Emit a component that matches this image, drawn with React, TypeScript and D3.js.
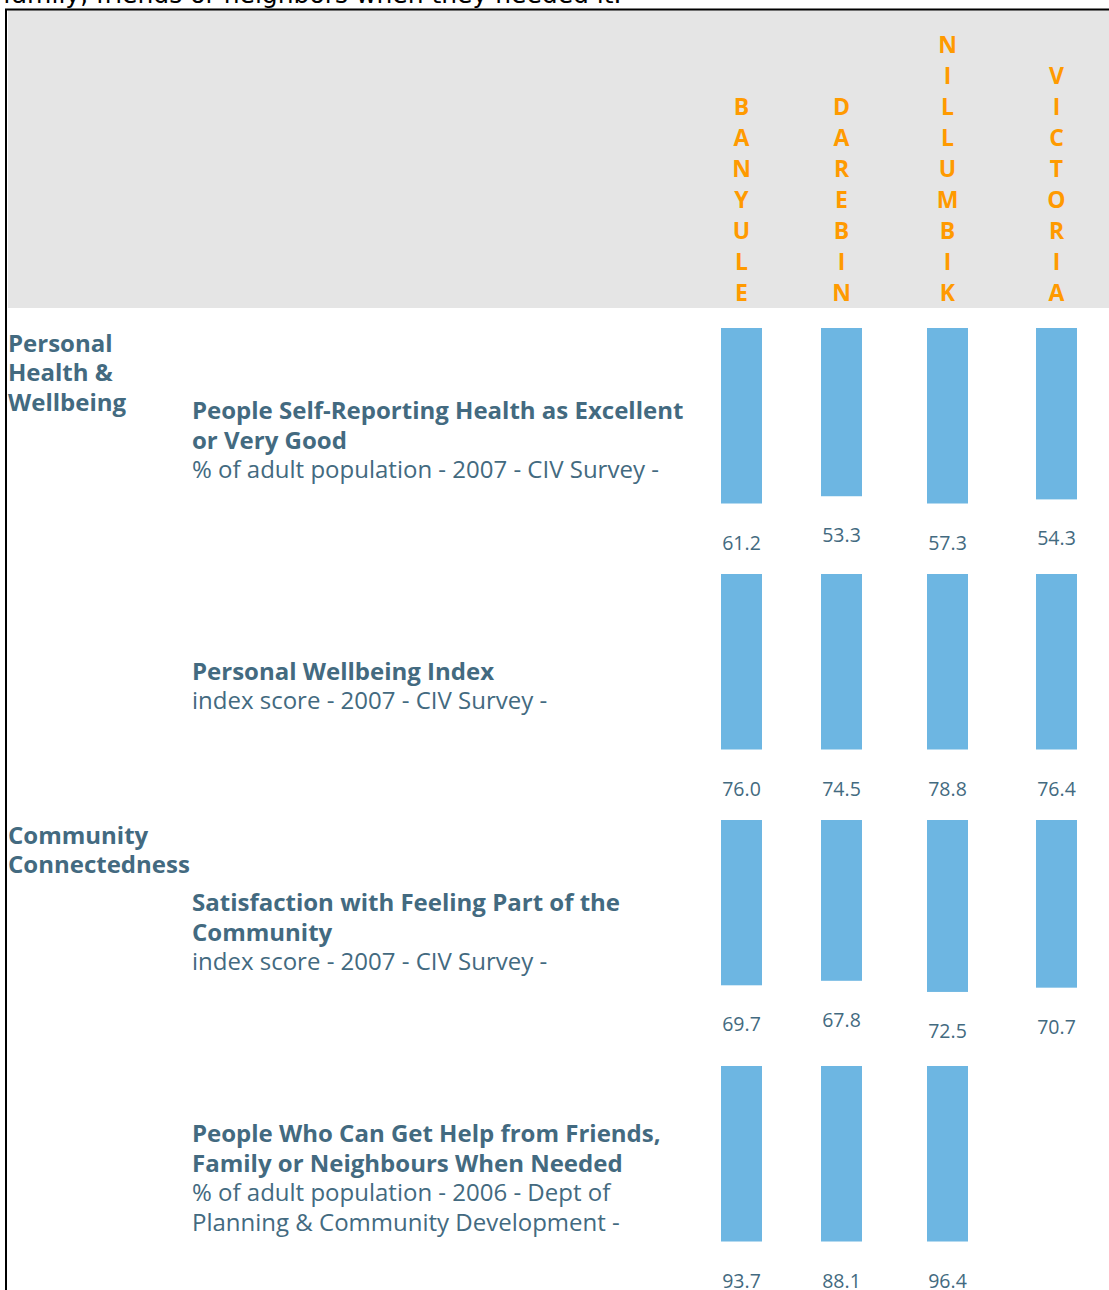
import React from "react";
import * as d3 from "d3";

const districts = ["BANYULE", "DAREBIN", "NILLUMBIK", "VICTORIA"];
const sections = [
  { row: 0, lines: ["Personal", "Health &", "Wellbeing"] },
  { row: 2, lines: ["Community", "Connectedness"] },
];
const indicatorTitles = [
  ["People Self-Reporting Health as Excellent", "or Very Good"],
  ["Personal Wellbeing Index"],
  ["Satisfaction with Feeling Part of the", "Community"],
  ["People Who Can Get Help from Friends,", "Family or Neighbours When Needed"],
];
const indicatorSubtitles = [
  ["% of adult population - 2007 - CIV Survey -"],
  ["index score - 2007 - CIV Survey -"],
  ["index score - 2007 - CIV Survey -"],
  ["% of adult population - 2006 - Dept of", "Planning & Community Development -"],
];
const selfReportedHealth = [61.2, 53.3, 57.3, 54.3];
const wellbeingIndex = [76.0, 74.5, 78.8, 76.4];
const communitySatisfaction = [69.7, 67.8, 72.5, 70.7];
const helpFromOthers = [93.7, 88.1, 96.4, null];
const rowValues = [selfReportedHealth, wellbeingIndex, communitySatisfaction, helpFromOthers];
// per-row bar scale maximum (bars are capped at the cell height)
const rowScaleMax = [55.6, 74.0, 74.0, 85.0];
const caption = "family, friends or neighbors when they needed it.";

const W = 1109;
const H = 1290;
const TEXT = "#436a80";
const ORANGE = "#ff9a00";
const BAR = "#6db6e2";
const GRAY = "#e5e5e5";
const FONT = "'Open Sans', Lato, sans-serif";

export default function App() {
  const x = d3.scaleOrdinal<string, number>().domain(districts).range([741.5, 841.5, 947.5, 1056.5]);
  const rowY = d3.scalePoint<number>().domain(d3.range(rowValues.length)).range([328, 1066]);
  const barW = 41;
  const cap = 175.5;
  const lineH = 29.5;

  return (
    <svg width={W} height={H} style={{ position: "absolute", left: 0, top: 0, background: "#fff" }}>
      <text x={3} y={3} fontFamily="'DejaVu Sans', sans-serif" fontSize={25} fill="#000">{caption}</text>
      <rect x={8} y={10} width={W - 8} height={298} fill={GRAY} />
      <line x1={5} x2={W} y1={9.5} y2={9.5} stroke="#000" strokeWidth={2} />
      <line x1={6} x2={6} y1={9} y2={H} stroke="#000" strokeWidth={2} />

      {districts.map((d) => {
        const letters = d.split("");
        const n = letters.length;
        return (
          <g key={d}>
            {letters.map((ch, i) => (
              <text key={i} x={x(d)} y={301 - (n - 1 - i) * 31} textAnchor="middle"
                fontFamily={FONT} fontWeight={700} fontSize={23} fill={ORANGE}>{ch}</text>
            ))}
          </g>
        );
      })}

      {sections.map((s) => (
        <text key={s.row} fontFamily={FONT} fontWeight={700} fontSize={24} fill={TEXT}>
          {s.lines.map((l, i) => (
            <tspan key={i} x={8} y={(rowY(s.row) as number) + 23.5 + i * lineH}>{l}</tspan>
          ))}
        </text>
      ))}

      {rowValues.map((vals, r) => {
        const top = rowY(r) as number;
        const lines = [
          ...indicatorTitles[r].map((t) => ({ t, bold: true })),
          ...indicatorSubtitles[r].map((t) => ({ t, bold: false })),
        ];
        const mid = top + 112;
        const firstCenter = mid - ((lines.length - 1) * lineH) / 2;
        const h = d3.scaleLinear().domain([0, rowScaleMax[r]]).range([0, cap]).clamp(true);
        return (
          <g key={r}>
            {lines.map((ln, i) => (
              <text key={i} x={192} y={firstCenter + i * lineH + 8.5} fontFamily={FONT}
                fontWeight={ln.bold ? 700 : 400} fontSize={24} fill={TEXT}>{ln.t}</text>
            ))}
            {vals.map((v, j) => {
              if (v == null) return null;
              const cx = x(districts[j]);
              const bh = h(v);
              return (
                <g key={j}>
                  <rect x={cx - barW / 2} y={top} width={barW} height={bh} fill={BAR} />
                  <text x={cx} y={top + bh + 46} textAnchor="middle" fontFamily={FONT}
                    fontSize={19.5} fill={TEXT}>{v.toFixed(1)}</text>
                </g>
              );
            })}
          </g>
        );
      })}
    </svg>
  );
}
